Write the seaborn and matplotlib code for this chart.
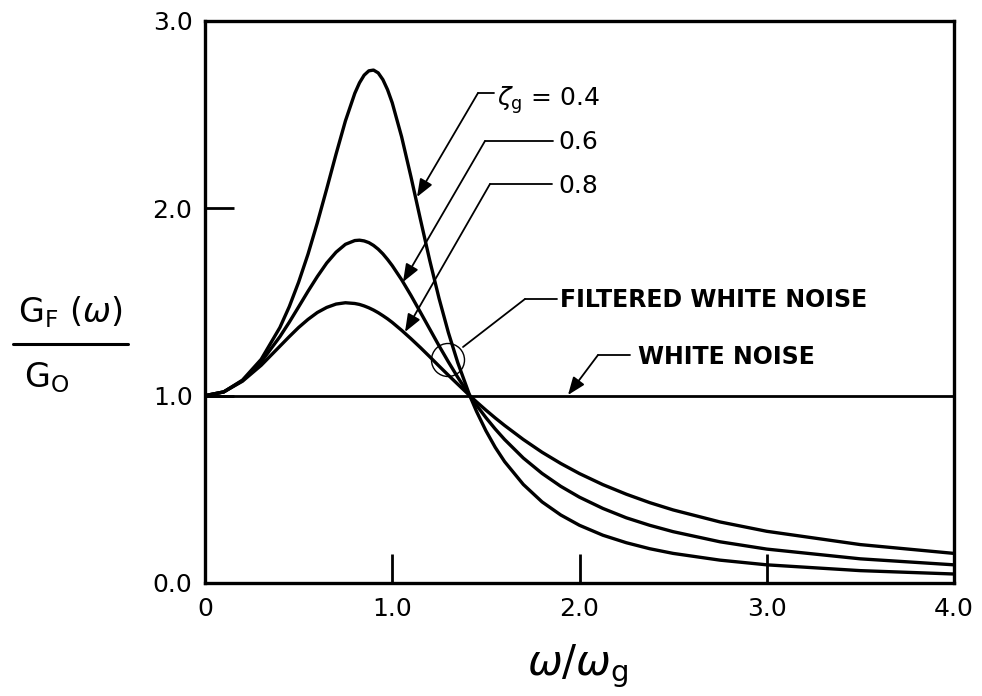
import numpy as np
import pandas as pd
import matplotlib
matplotlib.use("Agg")
import matplotlib.pyplot as plt
from matplotlib.patches import Ellipse
from matplotlib.lines import Line2D
import seaborn as sns

# ---- data ----
omega_ratio = [0.0, 0.1, 0.2, 0.3, 0.4, 0.45, 0.5, 0.55, 0.6, 0.65,
               0.7, 0.75, 0.8, 0.825, 0.85, 0.875, 0.9, 0.925, 0.95, 0.975,
               1.0, 1.05, 1.1, 1.15, 1.2, 1.25, 1.3, 1.35, 1.414, 1.45,
               1.5, 1.55, 1.6, 1.7, 1.8, 1.9, 2.0, 2.125, 2.25, 2.375,
               2.5, 2.75, 3.0, 3.5, 4.0]
G_zeta_04 = [1.0, 1.020, 1.083, 1.194, 1.364, 1.475, 1.606, 1.755, 1.923, 2.104,
             2.290, 2.467, 2.614, 2.670, 2.711, 2.734, 2.738, 2.723, 2.687, 2.633,
             2.563, 2.382, 2.168, 1.943, 1.723, 1.519, 1.336, 1.176, 1.0, 0.916,
             0.813, 0.724, 0.648, 0.526, 0.433, 0.363, 0.308, 0.255, 0.215, 0.183,
             0.158, 0.122, 0.097, 0.066, 0.048]
G_zeta_06 = [1.0, 1.020, 1.080, 1.180, 1.315, 1.392, 1.474, 1.557, 1.636, 1.708,
             1.766, 1.808, 1.828, 1.830, 1.826, 1.817, 1.802, 1.782, 1.757, 1.727,
             1.694, 1.619, 1.535, 1.446, 1.356, 1.266, 1.180, 1.098, 1.0, 0.949,
             0.883, 0.822, 0.766, 0.667, 0.585, 0.516, 0.458, 0.398, 0.348, 0.308,
             0.274, 0.220, 0.181, 0.129, 0.097]
G_zeta_08 = [1.0, 1.020, 1.077, 1.162, 1.264, 1.315, 1.364, 1.407, 1.444, 1.471,
             1.489, 1.496, 1.492, 1.487, 1.479, 1.469, 1.457, 1.443, 1.427, 1.410,
             1.391, 1.349, 1.304, 1.257, 1.208, 1.158, 1.109, 1.061, 1.0, 0.967,
             0.923, 0.881, 0.841, 0.766, 0.698, 0.638, 0.584, 0.525, 0.474, 0.429,
             0.390, 0.326, 0.276, 0.205, 0.158]
zeta_labels = ["0.4", "0.6", "0.8"]
white_noise_x = [0.0, 4.0]
white_noise_y = [1.0, 1.0]
x_ticks = [0, 1, 2, 3, 4]
x_ticklabels = ["0", "1.0", "2.0", "3.0", "4.0"]
y_ticks = [0, 1, 2, 3]
y_ticklabels = ["0.0", "1.0", "2.0", "3.0"]

n = len(omega_ratio)
df = pd.DataFrame({
    "w": omega_ratio * 3,
    "G": G_zeta_04 + G_zeta_06 + G_zeta_08,
    "zeta": [zeta_labels[0]] * n + [zeta_labels[1]] * n + [zeta_labels[2]] * n,
})
wn = pd.DataFrame({"w": white_noise_x, "G": white_noise_y})

sns.set_theme(style="white")
plt.rcParams["font.family"] = ["DejaVu Sans"]
plt.rcParams["mathtext.fontset"] = "dejavusans"

fig = plt.figure(figsize=(9.82, 6.96), dpi=100)
ax = fig.add_axes([205 / 982, 1 - 583 / 696, (954 - 205) / 982, (583 - 21) / 696])

sns.lineplot(data=df, x="w", y="G", hue="zeta", palette=["black"] * 3,
             legend=False, linewidth=2.4, ax=ax, sort=False)
sns.lineplot(data=wn, x="w", y="G", color="black", linewidth=2.0, ax=ax)
for ln in ax.lines:
    ln.set_solid_joinstyle("round")
    ln.set_solid_capstyle("round")

ax.set_xlim(0, 4)
ax.set_ylim(0, 3)
ax.set_xticks(x_ticks)
ax.set_xticklabels(x_ticklabels)
ax.set_yticks(y_ticks)
ax.set_yticklabels(y_ticklabels)
ax.tick_params(axis="both", direction="in", length=21, width=2.0, color="black",
               labelsize=18, labelcolor="black", bottom=True, left=True,
               top=False, right=False)
ax.tick_params(axis="y", pad=9)
ax.tick_params(axis="x", pad=10)
for s in ax.spines.values():
    s.set_visible(True)
    s.set_color("black")
    s.set_linewidth(2.4)
ax.set_xlabel("")
ax.set_ylabel("")


# pixel -> data helpers for annotation layout
def px(xp, yp):
    return ((xp - 205) / 187.25, (583 - yp) / 187.33)


arrow_kw = dict(arrowstyle="-|>,head_length=0.9,head_width=0.35", color="black",
                lw=1.3, shrinkA=0, shrinkB=0)


def leader(text, text_xy, elbow_right, elbow_left, tip, fs=18, weight="normal", arrow=True):
    ax.text(*px(*text_xy), text, fontsize=fs, fontweight=weight, ha="left", va="center",
            color="black", clip_on=False)
    xa, ya = px(*elbow_right)
    xb, yb = px(*elbow_left)
    ax.add_line(Line2D([xa, xb], [ya, yb], color="black", lw=1.3))
    if arrow:
        ax.annotate("", xy=px(*tip), xytext=(xb, yb), arrowprops=arrow_kw)
    else:
        xt, yt = px(*tip)
        ax.add_line(Line2D([xb, xt], [yb, yt], color="black", lw=1.3))


leader(r"$\zeta_\mathregular{g}$ = 0.4", (497, 100), (494, 93), (478, 93), (417, 197))
leader("0.6", (558, 142), (553, 141), (485, 141), (403, 282))
leader("0.8", (558, 186), (552, 184), (490, 184), (405, 332))
leader("FILTERED WHITE NOISE", (560, 300), (557, 299), (525, 299), (463, 347),
       fs=17, weight="bold", arrow=False)
leader("WHITE NOISE", (638, 357), (630, 355), (598, 355), (568, 395),
       fs=17, weight="bold")

cx, cy = px(448, 360)
ax.add_patch(Ellipse((cx, cy), 33 / 187.25, 33 / 187.33, fill=False, ec="black", lw=1.0))

# y-axis label as a fraction
fig.text(70 / 982, 1 - 312 / 696, r"G$_\mathregular{F}$ ($\omega$)", fontsize=24,
         ha="center", va="center", color="black")
fig.add_artist(Line2D([13 / 982, 128 / 982], [1 - 344 / 696, 1 - 344 / 696],
                      color="black", lw=2.2, transform=fig.transFigure))
fig.text(47 / 982, 1 - 378 / 696, r"G$_\mathregular{O}$", fontsize=24,
         ha="center", va="center", color="black")

# x-axis label
fig.text(578 / 982, 1 - 666 / 696, r"$\omega$/$\omega_\mathregular{g}$", fontsize=30,
         ha="center", va="center", color="black")

fig.savefig("out.png", dpi=100, facecolor="white")
